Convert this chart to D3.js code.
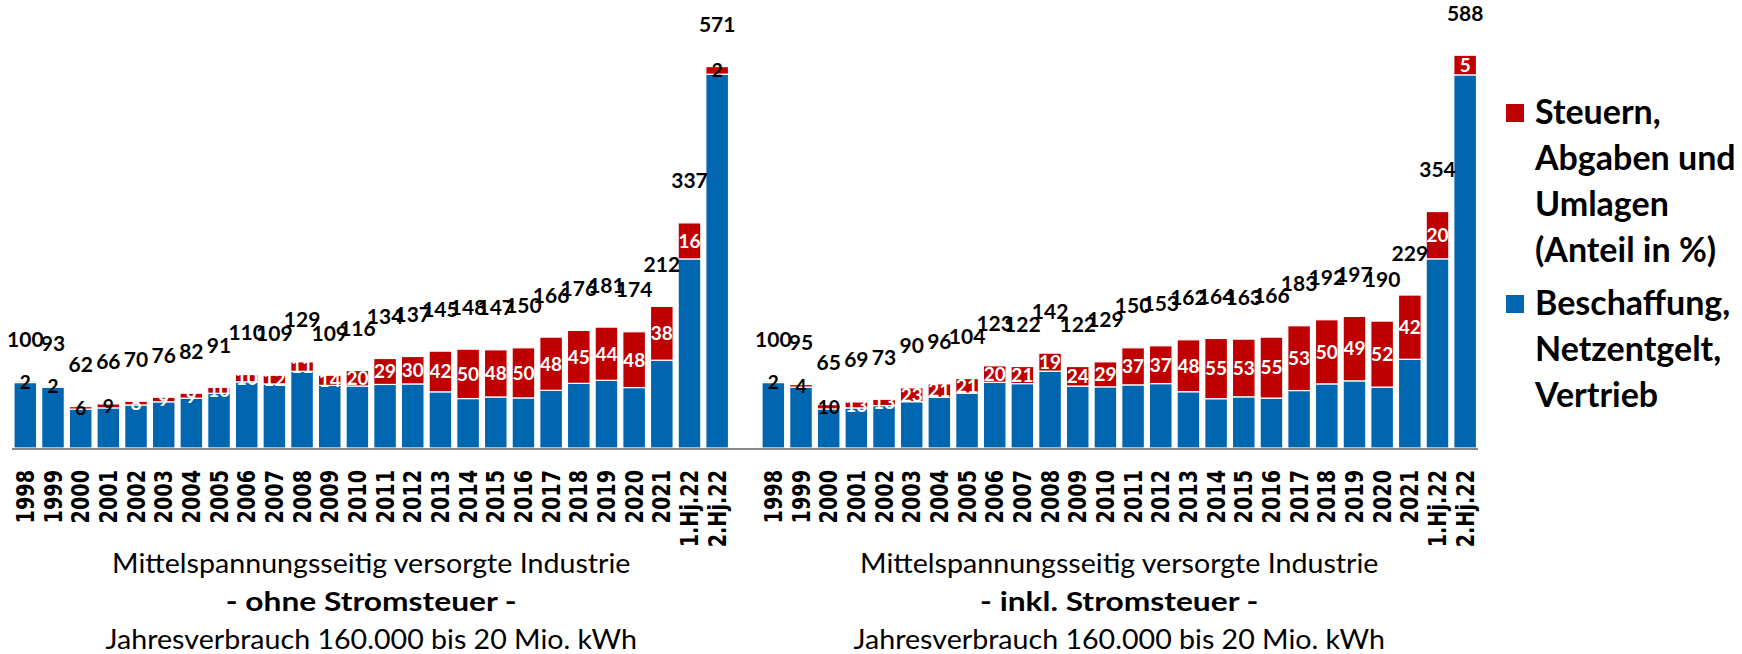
<!DOCTYPE html>
<html>
<meta charset="utf-8">
<style type="text/css">
  body { margin: 0; background: #fff; }
  svg { display: block; }
</style>
<body>
<svg width="1742" height="654"></svg>
<script src="https://d3js.org/d3.v7.min.js"></script>
<script>

// categories on the x axis (same for both charts)
const categories = ['1998','1999','2000','2001','2002','2003','2004','2005','2006','2007','2008','2009',
  '2010','2011','2012','2013','2014','2015','2016','2017','2018','2019','2020','2021','1.Hj.22','2.Hj.22'];

// index 1998 = 100, ohne Stromsteuer
const totalOhne = [100,93,62,66,70,76,82,91,110,109,129,109,116,134,137,145,148,147,150,166,176,181,174,212,337,571];
// share of taxes/levies in %
const shareOhne = [2,2,6,9,8,9,9,10,10,12,11,14,20,29,30,42,50,48,50,48,45,44,48,38,16,2];

// index 1998 = 100, inkl. Stromsteuer
const totalInkl = [100,95,65,69,73,90,96,104,123,122,142,122,129,150,153,162,164,163,166,183,192,197,190,229,354,588];
const shareInkl = [2,4,10,13,13,23,21,21,20,21,19,24,29,37,37,48,55,53,55,53,50,49,52,42,20,5];

const legendRed = ['Steuern,', 'Abgaben und', 'Umlagen', '(Anteil in %)'];
const legendBlue = ['Beschaffung,', 'Netzentgelt,', 'Vertrieb'];

const titleOhne = ['Mittelspannungsseitig versorgte Industrie', '- ohne Stromsteuer -', 'Jahresverbrauch 160.000 bis 20 Mio. kWh'];
const titleInkl = ['Mittelspannungsseitig versorgte Industrie', '- inkl. Stromsteuer -', 'Jahresverbrauch 160.000 bis 20 Mio. kWh'];

const RED = '#c00000', BLUE = '#0066b0';
const svg = d3.select('svg');
const baseY = 448;

// same value scale for both panels
const y = d3.scaleLinear().domain([0, 600]).range([baseY, baseY - 0.668 * 600]);

function drawPanel(totals, shares, x0, x1, title, lineX0, lineX1) {
  const x = d3.scaleBand()
      .domain(categories)
      .range([x0, x1])
      .paddingInner(0.18)
      .paddingOuter(0.09);

  const rows = categories.map((c, i) => {
    const red = totals[i] * shares[i] / 100;
    return {cat: c, total: totals[i], share: shares[i], blue: totals[i] - red, red: red};
  });

  const g = svg.append('g');

  // blue part
  g.selectAll('rect.blue').data(rows).enter().append('rect')
      .attr('class', 'blue')
      .attr('x', d => x(d.cat))
      .attr('width', x.bandwidth())
      .attr('y', d => y(d.blue))
      .attr('height', d => y(0) - y(d.blue))
      .attr('fill', BLUE)
      .attr('stroke', '#fff')
      .attr('stroke-width', 1.2);

  // red part on top
  g.selectAll('rect.red').data(rows).enter().append('rect')
      .attr('class', 'red')
      .attr('x', d => x(d.cat))
      .attr('width', x.bandwidth())
      .attr('y', d => y(d.total))
      .attr('height', d => y(d.blue) - y(d.total))
      .attr('fill', RED)
      .attr('stroke', '#fff')
      .attr('stroke-width', 1.2);

  // base line
  g.append('line')
      .attr('x1', lineX0).attr('x2', lineX1)
      .attr('y1', baseY + 1).attr('y2', baseY + 1)
      .attr('stroke', '#888').attr('stroke-width', 2);

  // share labels, centred in the red part (dark where the red part is too thin)
  g.selectAll('text.share').data(rows).enter().append('text')
      .attr('class', 'share')
      .attr('x', d => x(d.cat) + x.bandwidth() / 2)
      .attr('y', d => (y(d.total) + y(d.blue)) / 2)
      .attr('dy', '0.36em')
      .attr('text-anchor', 'middle')
      .style('font', 'bold 19px Lato')
      .attr('fill', d => (d.share <= 4 || (d.share <= 10 && d.total < 70)) ? '#000' : '#fff')
      .text(d => d.share);

  // totals (index) above the bars
  g.selectAll('text.total').data(rows).enter().append('text')
      .attr('class', 'total')
      .attr('x', d => x(d.cat) + x.bandwidth() / 2)
      .attr('y', d => y(d.total) - 42)
      .attr('dy', '0.36em')
      .attr('text-anchor', 'middle')
      .style('font', 'bold 21px Lato')
      .attr('fill', '#000')
      .text(d => d.total);

  // category labels, rotated
  g.selectAll('text.cat').data(categories).enter().append('text')
      .attr('class', 'cat')
      .attr('transform', d => `translate(${x(d) + x.bandwidth() / 2},470) rotate(-90)`)
      .attr('dy', '0.36em')
      .attr('text-anchor', 'end')
      .style('font', 'bold 24px "DejaVu Sans"')
      .text(d => d)
      .each(function() {
        const w = this.getComputedTextLength();
        d3.select(this).attr('textLength', w * 0.8).attr('lengthAdjust', 'spacingAndGlyphs');
      });

  // title below the panel
  const cx = (x0 + x1) / 2;
  title.forEach((t, i) => {
    const el = g.append('text')
        .attr('x', cx)
        .attr('y', 573 + i * 38)
        .attr('text-anchor', 'middle')
        .style('font', (i === 1 ? 'bold ' : '') + '26px Lato')
        .text(t);
    // stretch to the width of the original lines
    const w = el.node().getComputedTextLength();
    el.attr('textLength', i === 1 ? w * 1.22 : w * 1.1).attr('lengthAdjust', 'spacingAndGlyphs');
  });
}

drawPanel(totalOhne, shareOhne, 11.5, 731, titleOhne, 12, 745);
drawPanel(totalInkl, shareInkl, 759.5, 1479, titleInkl, 745, 1478);

// legend
const legend = svg.append('g').attr('transform', 'translate(1506,0)');
[[RED, legendRed, 124], [BLUE, legendBlue, 315]].forEach(([col, lines, by]) => {
  legend.append('rect')
      .attr('x', 0).attr('y', by - 20)
      .attr('width', 18).attr('height', 18)
      .attr('fill', col);
  legend.selectAll(null).data(lines).enter().append('text')
      .attr('x', 29)
      .attr('y', (d, i) => by + i * 46)
      .style('font', 'bold 34px Lato')
      .attr('fill', '#000')
      .text(d => d);
});

</script>
</body>
</html>
